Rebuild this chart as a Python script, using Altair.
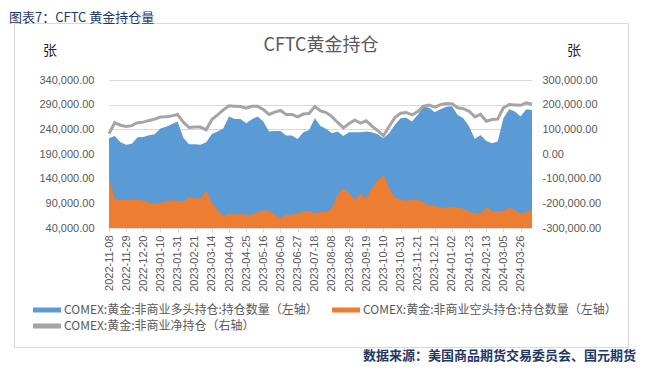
import altair as alt
import pandas as pd

# weekly report dates (categories)
dates = [d.strftime("%Y-%m-%d") for d in pd.date_range("2022-11-08", periods=75, freq="7D")]
tick_labels = dates[::3]

left_ticks = [40000, 90000, 140000, 190000, 240000, 290000, 340000]
right_ticks = [-300000, -200000, -100000, 0, 100000, 200000, 300000]

# COMEX gold non-commercial long positions (left axis)
long_pos = [222000, 226500, 214000, 209000, 211000, 224000, 224500, 228000, 230000, 241500,
            245000, 250500, 255700, 223000, 210000, 210000, 208500, 214000, 230500, 235500,
            242300, 265800, 261000, 261000, 252400, 260500, 265800, 255700, 235400, 236800,
            236800, 227300, 227300, 220600, 234200, 238900, 262500, 247000, 240500, 232200,
            235400, 226700, 234200, 234200, 234200, 235400, 234200, 230200, 222000, 232200,
            249000, 262500, 263700, 255700, 269200, 286000, 284000, 274700, 280700, 286000,
            287000, 269200, 262500, 245500, 220600, 228700, 216600, 212000, 215200, 262500,
            280700, 275900, 265800, 280700, 279000]

# COMEX gold non-commercial short positions (left axis)
short_pos = [140000, 99300, 97300, 97300, 96000, 97300, 95300, 91900, 88500, 91900,
             93900, 96000, 95300, 93900, 102700, 100700, 99300, 116000, 90600, 77000,
             63500, 70300, 67000, 68300, 67000, 67000, 72400, 75600, 75000, 67000,
             60200, 67000, 67000, 70300, 72400, 75000, 70300, 72400, 72400, 80500,
             107400, 120900, 110800, 97300, 108800, 100700, 120900, 135700, 147800, 120900,
             101900, 97300, 95300, 97300, 97300, 91900, 85700, 85100, 80500, 81700,
             83700, 81700, 79000, 72400, 70300, 68300, 83700, 72400, 73600, 75000,
             80500, 77000, 68300, 73600, 77000]

# COMEX gold non-commercial net positions (right axis)
net_pos = [82000, 127200, 116700, 111700, 115000, 126700, 129200, 136100, 141500, 149600,
           151100, 154500, 160400, 129100, 107300, 109300, 109200, 98000, 139900, 158500,
           178800, 195500, 194000, 192700, 185400, 193500, 193400, 180100, 160400, 169800,
           176600, 160300, 160300, 150300, 161800, 163900, 192200, 174600, 168100, 151700,
           128000, 105800, 123400, 136900, 125400, 134700, 113300, 94500, 74200, 111300,
           147100, 165200, 168400, 158400, 171900, 194100, 198300, 189600, 200200, 204300,
           203300, 187500, 183500, 173100, 150300, 160400, 132900, 139600, 141600, 187500,
           200200, 198900, 197500, 207100, 202000]

S_LONG = "COMEX:黄金:非商业多头持仓:持仓数量（左轴）"
S_SHORT = "COMEX:黄金:非商业空头持仓:持仓数量（左轴）"
S_NET = "COMEX:黄金:非商业净持仓（右轴）"

df = pd.DataFrame({"date": dates, "long": long_pos, "short": short_pos, "net": net_pos})
one = pd.DataFrame({"k": [0]})

CJK = "Noto Sans CJK SC"
LAT = "Liberation Sans"
GRAY_TXT = "#595959"
GRID = "#D9D9D9"

color_scale = alt.Scale(domain=[S_LONG, S_SHORT, S_NET], range=["#5B9BD5", "#ED7D31", "#A5A5A5"])
legend = alt.Legend(
    title=None, orient="none", legendX=-69, legendY=223, columns=2, direction="horizontal",
    symbolType="M-2,-0.36H2V0.36H-2Z", symbolSize=196, symbolStrokeWidth=0,
    symbolOpacity=1, labelFont=CJK, labelFontSize=12, labelColor=GRAY_TXT,
    labelOffset=10, labelLimit=500, columnPadding=14, rowPadding=3, padding=0,
)
color = alt.Color("series:N", scale=color_scale, legend=legend)

x_enc = alt.X(
    "date:O",
    scale=alt.Scale(type="point", padding=0),
    axis=alt.Axis(
        values=tick_labels, labelAngle=270, title=None, labelFont=LAT, labelFontSize=11,
        labelColor=GRAY_TXT, tickColor=GRID, domainColor=GRID, tickSize=4, labelPadding=3,
        grid=False, labelOverlap=False,
    ),
)

left_scale = alt.Scale(domain=[40000, 340000], nice=False, zero=False)
left_axis = alt.Axis(
    values=left_ticks, format=",.2f", title=None, domain=False, ticks=False,
    labelPadding=15, labelFont=LAT, labelFontSize=11, labelColor=GRAY_TXT,
    grid=True, gridColor=GRID, gridWidth=1,
)
right_scale = alt.Scale(domain=[-300000, 300000], nice=False, zero=False)
right_axis = alt.Axis(
    orient="right", values=right_ticks, title=None, domain=False, ticks=False, grid=False,
    labelExpr="(datum.value < 0 ? '-' : '') + format(abs(datum.value), ',.2f')",
    labelPadding=10, labelFont=LAT, labelFontSize=11, labelColor=GRAY_TXT,
)

base = alt.Chart(df)
blue = base.mark_area(opacity=1).transform_calculate(series=f"'{S_LONG}'").encode(
    x=x_enc, y=alt.Y("long:Q", scale=left_scale, axis=left_axis), y2=alt.datum(40000), color=color
)
orange = base.mark_area(opacity=1).transform_calculate(series=f"'{S_SHORT}'").encode(
    x=x_enc, y=alt.Y("short:Q", scale=left_scale, axis=left_axis), y2=alt.datum(40000), color=color
)
line = base.mark_line(strokeWidth=3).transform_calculate(series=f"'{S_NET}'").encode(
    x=x_enc, y=alt.Y("net:Q", scale=right_scale, axis=right_axis), color=color
)

frame = alt.Chart(one).mark_rect(fillOpacity=0, stroke=GRID, strokeWidth=1).encode(
    x=alt.value(-94.5), x2=alt.value(519.5), y=alt.value(-56.5), y2=alt.value(267.5)
)


def label(txt, x, y, size, col, align="center", weight="normal", font=CJK):
    return alt.Chart(one).mark_text(
        text=txt, align=align, baseline="middle", fontSize=size, color=col,
        fontWeight=weight, font=font,
    ).encode(x=alt.value(x), y=alt.value(y))


header = label("图表7：CFTC 黄金持仓量", -100, -62, 13, "#1F3864", align="left")
footer = label("数据来源：美国商品期货交易委员会、国元期货", 527, 276, 13, "#1F3864", align="right", weight="bold")
title = label("CFTC黄金持仓", 212, -34, 18, GRAY_TXT)
unit_l = label("张", -59, -29, 14, "#262626")
unit_r = label("张", 465, -29, 14, "#262626")

chart = alt.layer(
    frame, alt.layer(blue, orange), line, header, footer, title, unit_l, unit_r
).resolve_scale(y="independent").properties(
    width=423, height=148,
    padding={"left": 101, "top": 72, "right": 105, "bottom": 136},
    autosize=alt.AutoSizeParams(type="none"),
).configure_view(stroke=None)

chart.save("out.html", embed_options={"renderer": "svg", "actions": False})
